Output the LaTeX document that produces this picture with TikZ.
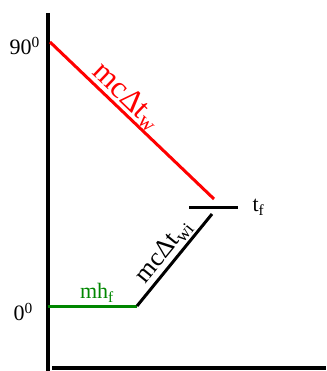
\documentclass[tikz,border=0pt]{standalone}
\usepackage{fontspec}
\setmainfont{Liberation Serif}
\definecolor{darkgreen}{RGB}{0,135,0}
\tikzset{
  axisline/.style={line width=4pt},
  curveline/.style={line width=3pt},
  lbl/.style={font=\fontsize{22}{24}\selectfont, inner sep=1pt},
}
\begin{document}
\begin{tikzpicture}[x=1pt,y=-1pt]
        \useasboundingbox (0,0) rectangle (326,371);
        % Axes
        \coordinate (ytop) at (48,13);
        \coordinate (ybot) at (48,371);
        \coordinate (xleft) at (52,368);
        \coordinate (xright) at (326,368);
        \draw[axisline] (ytop) -- (ybot);
        \draw[axisline] (xleft) -- (xright);
        % Key points
        \coordinate (hot) at (50,42);
        \coordinate (hotend) at (214,199);
        \coordinate (melt) at (48,306);
        \coordinate (meltend) at (137,306);
        \coordinate (warmend) at (212,214);
        \coordinate (finl) at (189,207);
        \coordinate (finr) at (238,207);
        % Axis labels
        \node[lbl, anchor=east] (lab90) at (41,46) {90\textsuperscript{0}};
        \node[lbl, anchor=east] (lab0) at (34,312) {0\textsuperscript{0}};
        % Water cooling
        \draw[curveline, red] (hot) -- (hotend)
            node[pos=0.41, sloped, above, font=\fontsize{31}{33}\selectfont, inner sep=0pt] (labw) {mcΔt\textsubscript{w}};
        % Ice melting
        \draw[curveline, darkgreen] (melt) -- (meltend)
            node[pos=0.55, above, lbl, text=darkgreen, inner sep=2pt] (labf) {mh\textsubscript{f}};
        % Ice warming
        \draw[curveline] (meltend) -- (warmend)
            node[pos=0.5, sloped, above, font=\fontsize{26}{28}\selectfont, inner sep=2pt] (labwi) {mcΔt\textsubscript{wi}};
        % Final temperature
        \draw[curveline] (finl) -- (finr)
            node[right, lbl, xshift=12pt] (labtf) {t\textsubscript{f}};
    \end{tikzpicture}
\end{document}
